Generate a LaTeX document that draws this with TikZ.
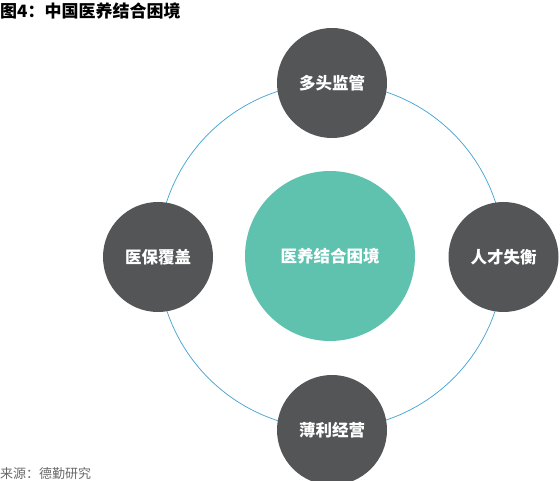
\documentclass[tikz,border=0pt]{standalone}
\usepackage{fontspec}
\newfontfamily\cjk{Noto Sans CJK SC}
\definecolor{ringblue}{HTML}{3FA2D2}
\definecolor{darkc}{HTML}{545557}
\definecolor{greenc}{HTML}{5EC2AF}
\definecolor{srcgray}{HTML}{6A6A6A}
\begin{document}
\begin{tikzpicture}[x=1pt,y=-1pt,
  outer/.style={circle,fill=darkc,minimum size=110pt,inner sep=0pt,text=white,font=\cjk\bfseries\fontsize{16.5}{19}\selectfont},
  core/.style={circle,fill=greenc,minimum size=170pt,inner sep=0pt,text=white,font=\cjk\bfseries\fontsize{16.5}{19}\selectfont},
  ring/.style={draw=ringblue,line width=0.7pt}]
\clip (0,0) rectangle (560,481);
\fill[white] (0,0) rectangle (560,481);
\coordinate (o) at (331,256);
\draw[ring] (o) circle[radius=173pt];
\node[core] (c) at (330,256) {医养结合困境};
\node[outer] (t) at (332,83) {多头监管};
\node[outer] (l) at (158,257) {医保覆盖};
\node[outer] (r) at (503.5,257) {人才失衡};
\node[outer] (b) at (332,430) {薄利经营};
\node[anchor=west,inner sep=0pt,font=\cjk\bfseries\fontsize{17}{19}\selectfont] (title) at (0,11) {图4：中国医养结合困境};
\node[anchor=west,inner sep=0pt,text=srcgray,font=\cjk\fontsize{13}{15}\selectfont] (src) at (0,474) {来源：德勤研究};
\end{tikzpicture}
\end{document}
